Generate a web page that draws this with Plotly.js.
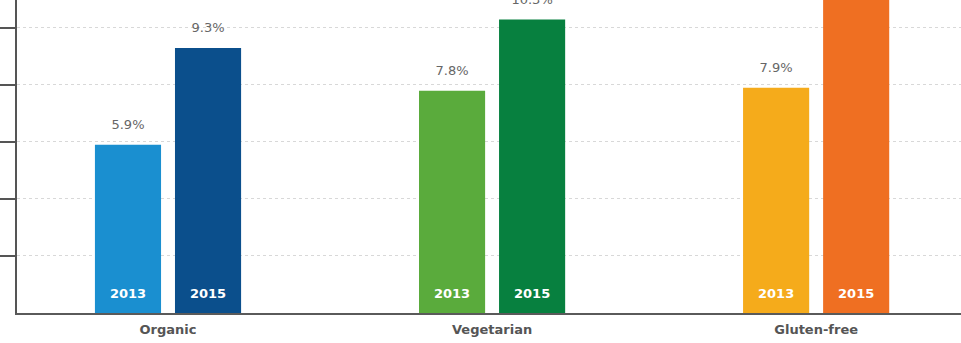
<!DOCTYPE html>
<html>
<head>
<meta charset="utf-8">
<script src="https://cdn.plot.ly/plotly-3.0.1.min.js"></script>
<style>html,body{margin:0;padding:0;background:#fff;}#chart{width:961px;height:343px;}</style>
</head>
<body>
<div id="chart"></div>
<script>
const categories = ["Organic", "Vegetarian", "Gluten-free"];
const values2013 = [5.9, 7.8, 7.9];
const values2015 = [9.3, 10.3, 12.5];
const labels2013 = ["5.9%", "7.8%", "7.9%"];
const labels2015 = ["9.3%", "10.3%", ""];
const colors2013 = ["#1a8fd0", "#5aab3c", "#f5ab1b"];
const colors2015 = ["#0b4f8c", "#07803f", "#ef6f22"];
const yearLabel2013 = "2013";
const yearLabel2015 = "2015";

const font = "DejaVu Sans, sans-serif";

function barTrace(vals, colors, group) {
  return {
    type: "bar", x: categories, y: vals, offsetgroup: group,
    marker: {color: colors, line: {width: 0}},
    hoverinfo: "skip", showlegend: false
  };
}
function pctTrace(vals, labels, group) {
  return {
    type: "scatter", mode: "markers+text", x: categories, y: vals, offsetgroup: group,
    marker: {size: 18, opacity: 0},
    text: labels, textposition: "top center", cliponaxis: false,
    textfont: {family: font, size: 13, color: "#666666"},
    hoverinfo: "skip", showlegend: false
  };
}
function yearTrace(vals, year, group) {
  return {
    type: "scatter", mode: "markers+text", x: categories, y: vals.map(() => 0), offsetgroup: group,
    marker: {size: 18, opacity: 0},
    text: categories.map(() => year), textposition: "top center", cliponaxis: false,
    textfont: {family: font, size: 13, color: "#ffffff", weight: "bold"},
    hoverinfo: "skip", showlegend: false
  };
}

const data = [
  barTrace(values2013, colors2013, "a"),
  barTrace(values2015, colors2015, "b"),
  pctTrace(values2013, labels2013, "a"),
  pctTrace(values2015, labels2015, "b"),
  yearTrace(values2013, yearLabel2013, "a"),
  yearTrace(values2015, yearLabel2015, "b")
];

const layout = {
  width: 961, height: 343,
  margin: {l: 17, r: 0, t: 0, b: 30, pad: 0},
  paper_bgcolor: "#fff", plot_bgcolor: "#fff",
  barmode: "group", bargap: 0.506, bargroupgap: 0.174,
  scattermode: "group", scattergap: 0.506,
  font: {family: font, color: "#555"},
  xaxis: {
    type: "category", range: [-0.466, 2.447],
    showline: true, linecolor: "#5a5a5a", linewidth: 2,
    ticks: "", showgrid: false, zeroline: false, ticklabelstandoff: 3,
    tickfont: {family: font, size: 13, color: "#555", weight: "bold"}
  },
  yaxis: {
    range: [0, 10.98], tickvals: [2, 4, 6, 8, 10], showticklabels: false,
    showline: true, linecolor: "#555", linewidth: 2,
    ticks: "outside", ticklen: 17, tickwidth: 2, tickcolor: "#555",
    showgrid: true, gridcolor: "#d8d8d8", gridwidth: 1, griddash: "dot",
    zeroline: false
  }
};

Plotly.newPlot("chart", data, layout, {staticPlot: true, displayModeBar: false});
</script>
</body>
</html>
